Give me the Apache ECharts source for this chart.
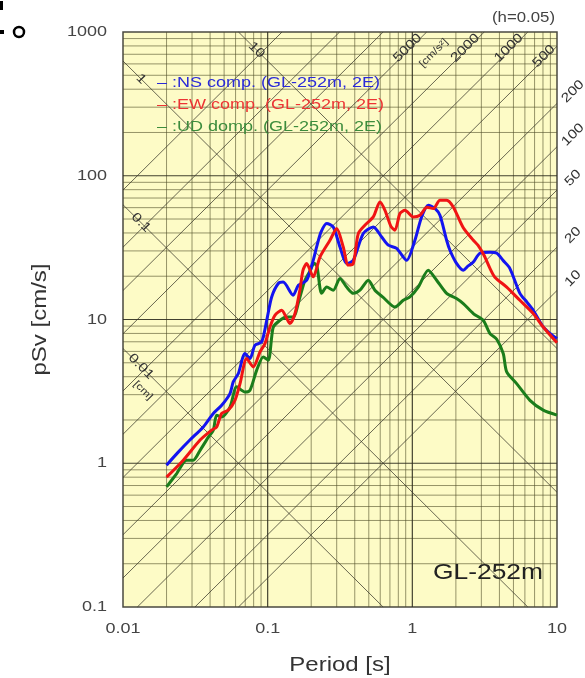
<!DOCTYPE html>
<html>
<head>
<meta charset="utf-8">
<title>pSv spectrum GL-252m</title>
<script src="https://cdn.jsdelivr.net/npm/echarts@6.0.0/dist/echarts.min.js"></script>
<style>
  html, body { margin: 0; padding: 0; background: #fff; }
  #main { width: 585px; height: 678px; }
</style>
</head>
<body>
<div id="main"></div>
<script>
// pseudo velocity response spectra (h=0.05)
var nsPeriod = [0.02, 0.024, 0.029, 0.0359, 0.0421, 0.0481, 0.0549, 0.0578, 0.0627, 0.0697, 0.0755, 0.0817, 0.0909, 0.0985, 0.1066, 0.1184, 0.128, 0.15, 0.163, 0.186, 0.2065, 0.218, 0.2336, 0.256, 0.284, 0.316, 0.3515, 0.3906, 0.458, 0.537, 0.614, 0.682, 0.779, 0.913, 1.042, 1.159, 1.288, 1.432, 1.552, 1.726, 1.82, 2.0, 2.25, 2.42, 2.64, 2.93, 3.44, 3.84, 4.23, 4.72, 5.54, 6.2, 6.85, 8.03, 8.93, 10];
var nsSv = [0.97, 1.19, 1.45, 1.79, 2.22, 2.53, 3.05, 3.68, 4.21, 5.8, 5.35, 6.62, 6.98, 9.88, 14.35, 17.8, 18.2, 14.75, 17.3, 18.75, 25.8, 32, 40.5, 46.5, 44, 32, 24.5, 25.8, 39.6, 44, 37.5, 32.9, 31.2, 25.8, 35.6, 51.7, 62.4, 59.4, 53.1, 35.6, 30.3, 25, 22, 23.5, 25.1, 28.9, 29.4, 28.9, 25.8, 22.7, 15.2, 13.2, 11.6, 8.87, 8.02, 7.37];

var ewPeriod = [0.02, 0.0261, 0.0341, 0.041, 0.0444, 0.0481, 0.0534, 0.0594, 0.0644, 0.0716, 0.0795, 0.0885, 0.0958, 0.1037, 0.1122, 0.125, 0.1353, 0.1426, 0.1545, 0.167, 0.1754, 0.186, 0.2065, 0.2298, 0.2695, 0.30, 0.333, 0.3606, 0.3906, 0.423, 0.47, 0.537, 0.597, 0.647, 0.711, 0.758, 0.821, 0.889, 1.015, 1.129, 1.262, 1.395, 1.552, 1.726, 1.918, 2.25, 2.64, 2.84, 3.13, 3.44, 3.72, 4.49, 5.54, 6.85, 8.03, 10];
var ewSv = [0.8, 1.05, 1.45, 1.7, 1.79, 2.22, 2.34, 2.74, 3.58, 5.35, 4.68, 5.95, 6.8, 8.87, 10.7, 11.6, 10.2, 9.37, 11, 16, 22, 24.5, 19.8, 27.2, 35.6, 42.9, 32, 23.9, 24.5, 39.6, 45.3, 51.7, 65.7, 57.5, 44.5, 41.8, 54.6, 57.5, 51.7, 53.1, 60.4, 59.1, 67.6, 67.6, 60.7, 43.5, 35.6, 32.9, 28, 22.7, 19.7, 16.8, 13.6, 11, 8.87, 6.89];

var udPeriod = [0.02, 0.0235, 0.0275, 0.0306, 0.0341, 0.0389, 0.0421, 0.0444, 0.0481, 0.0549, 0.0611, 0.0697, 0.0755, 0.0839, 0.0932, 0.101, 0.1093, 0.1216, 0.1353, 0.15, 0.167, 0.181, 0.196, 0.209, 0.219, 0.236, 0.256, 0.284, 0.316, 0.3515, 0.3906, 0.4345, 0.496, 0.551, 0.626, 0.758, 0.865, 0.962, 1.099, 1.288, 1.472, 1.726, 2.02, 2.25, 2.64, 3.09, 3.44, 3.83, 4.25, 4.49, 5.26, 6.5, 8.03, 10];
var udSv = [0.684, 0.848, 1.05, 1.05, 1.23, 1.52, 1.7, 2.16, 2.1, 2.46, 3.4, 3.13, 3.22, 4.43, 5.49, 5.21, 8.87, 9.88, 10.4, 10.4, 14.3, 18.75, 21.7, 24.6, 23.5, 15.2, 16.8, 16, 19.3, 16.8, 15.2, 16, 18.75, 16, 14.3, 12.2, 13.6, 14.35, 16.8, 22, 18.75, 15.2, 14, 12.9, 11, 9.88, 7.98, 7.29, 5.8, 4.32, 3.58, 2.74, 2.34, 2.16];

// axes and tripartite guide lines
var xTicks = [0.01, 0.1, 1, 10];
var yTicks = [0.1, 1, 10, 100, 1000];
var dispLevels = [0.01, 0.1, 1, 10];   // displacement [cm]
var accLevels = [10, 20, 50, 100, 200, 500, 1000, 2000, 5000, 10000, 20000, 50000];  // acceleration [cm/s2]
var accTopLabels = [5000, 2000, 1000, 500];
var accSideLabels = [200, 100, 50, 20, 10];

var xMin = 0.01, xMax = 10, yMin = 0.1, yMax = 1000;
var FONT = '"Liberation Sans", Arial, sans-serif';
var SX = 1.2;   // lettering in the picture is a bit wide

function pairs(xs, ys) {
  return xs.map(function (x, i) { return [x, ys[i]]; });
}

// log grid lines 1..9 per decade
function gridLines(major) {
  var out = [];
  var e, k, t;
  for (e = -2; e <= 0; e++) {
    for (k = 1; k <= 9; k++) {
      t = +(k * Math.pow(10, e)).toPrecision(3);
      if (t <= xMin || (k === 1) !== major) continue;
      out.push([[t, yMin], [t, yMax]]);
    }
  }
  for (e = -1; e <= 2; e++) {
    for (k = 1; k <= 9; k++) {
      t = +(k * Math.pow(10, e)).toPrecision(3);
      if (t <= yMin || (k === 1) !== major) continue;
      out.push([[xMin, t], [xMax, t]]);
    }
  }
  return out;
}

// Sv = 2*pi*D/T
function dispSeg(d) {
  var c = 2 * Math.PI * d;
  var t1 = Math.max(xMin, c / yMax), t2 = Math.min(xMax, c / yMin);
  if (t1 >= t2) return null;
  return [[t1, c / t1], [t2, c / t2]];
}
// Sv = A*T/(2*pi)
function accSeg(a) {
  var c = a / (2 * Math.PI);
  var t1 = Math.max(xMin, yMin / c), t2 = Math.min(xMax, yMax / c);
  if (t1 >= t2) return null;
  return [[t1, c * t1], [t2, c * t2]];
}

function guide(seg, color, width, z) {
  return {
    type: 'line', data: seg, z: z, silent: true, showSymbol: false, clip: true,
    lineStyle: { color: color, width: width }
  };
}

var series = [];
gridLines(false).forEach(function (s) { series.push(guide(s, 'rgba(80,78,40,0.6)', 1, 1)); });
gridLines(true).forEach(function (s) { series.push(guide(s, 'rgba(45,44,30,0.9)', 1.2, 1)); });
dispLevels.map(dispSeg).concat(accLevels.map(accSeg)).filter(Boolean).forEach(function (s) {
  series.push(guide(s, 'rgba(55,54,40,0.75)', 1, 2));
});

series.push({
  name: 'UD', type: 'line', z: 5, showSymbol: false, smooth: 0.25,
  data: pairs(udPeriod, udSv),
  lineStyle: { color: '#1b7d1b', width: 3 }
});
series.push({
  name: 'NS', type: 'line', z: 6, showSymbol: false, smooth: 0.25,
  data: pairs(nsPeriod, nsSv),
  lineStyle: { color: '#1414f0', width: 3 }
});
series.push({
  name: 'EW', type: 'line', z: 7, showSymbol: false, smooth: 0.25,
  data: pairs(ewPeriod, ewSv),
  lineStyle: { color: '#f01414', width: 3 }
});

var chart = echarts.init(document.getElementById('main'), null, { renderer: 'canvas' });

var hiddenAxis = {
  axisLine: { show: false },
  axisTick: { show: false },
  axisLabel: { show: false },
  splitLine: { show: false }
};

chart.setOption({
  animation: false,
  backgroundColor: '#ffffff',
  grid: {
    left: 123, right: 28, top: 32, bottom: 71,
    show: true,
    backgroundColor: '#fdfbc6',
    borderColor: '#4a4a40',
    borderWidth: 1.5
  },
  xAxis: Object.assign({ type: 'log', logBase: 10, min: xMin, max: xMax }, hiddenAxis),
  yAxis: Object.assign({ type: 'log', logBase: 10, min: yMin, max: yMax }, hiddenAxis),
  series: series
});

// text placed through the axes
function px(p) { return chart.convertToPixel({ gridIndex: 0 }, p); }

function txt(x, y, s, size, color, rot, align, vAlign) {
  return {
    type: 'text', x: x, y: y, rotation: rot || 0, scaleX: SX, z: 20, silent: true,
    style: {
      text: s, fill: color, fontSize: size, fontFamily: FONT,
      align: align || 'center', verticalAlign: vAlign || 'middle'
    }
  };
}

var g = [];

// tick labels and axis names
yTicks.forEach(function (v) {
  var p = px([xMin, v]);
  g.push(txt(p[0] - 16, p[1], String(v), 15, '#444', 0, 'right'));
});
xTicks.forEach(function (t) {
  var p = px([t, yMin]);
  g.push(txt(p[0], p[1] + 22, String(t), 15, '#444'));
});
var c0 = px([xMin, yMin]), c1 = px([xMax, yMax]);
g.push(txt(40, (c0[1] + c1[1]) / 2, 'pSv [cm/s]', 20, '#333', Math.PI / 2));
g.push(txt((c0[0] + c1[0]) / 2, 665, 'Period [s]', 20, '#333'));

// displacement labels
dispLevels.forEach(function (d) {
  var p = px(dispSeg(d)[0]);
  g.push(txt(p[0] + 18, p[1] + 18, String(d), 13, '#333', -Math.PI / 4));
  if (d === 0.01) g.push(txt(p[0] + 20, p[1] + 42, '[cm]', 10, '#333', -Math.PI / 4));
});

// acceleration labels
accTopLabels.forEach(function (a) {
  var p = px(accSeg(a)[1]);
  var off = String(a).length > 3 ? 19 : 13;
  g.push(txt(p[0] - off, p[1] + off - 3, String(a), 13, '#333', Math.PI / 4));
  if (a === 5000) g.push(txt(p[0] - off + 26, p[1] + off + 2, '[cm/s\u00b2]', 10, '#333', Math.PI / 4));
});
accSideLabels.forEach(function (a) {
  var p = px(accSeg(a)[1]);
  g.push(txt(p[0] + 16, p[1] - 12, String(a), 13, '#333', Math.PI / 4));
});

// legend, notes
g.push(txt(157, 83, '\u2013 :NS comp. (GL-252m, 2E)', 15, '#2a2ad8', 0, 'left'));
g.push(txt(157, 105, '\u2013 :EW comp. (GL-252m, 2E)', 15, '#ec3434', 0, 'left'));
g.push(txt(157, 127, '\u2013 :UD domp. (GL-252m, 2E)', 15, '#3c8c3c', 0, 'left'));
g.push(txt(c1[0] - 2, 18, '(h=0.05)', 14, '#444', 0, 'right'));
g.push(txt(c1[0] - 14, 573, 'GL-252m', 22, '#222', 0, 'right'));

// cropped caption remains at the top-left corner
g.push({ type: 'rect', shape: { x: 0, y: 1, width: 3, height: 9 }, style: { fill: '#000' } });
g.push({ type: 'rect', shape: { x: 0, y: 30, width: 4, height: 4 }, style: { fill: '#000' } });
g.push({ type: 'circle', shape: { cx: 19, cy: 32, r: 5 }, style: { fill: 'none', stroke: '#000', lineWidth: 2.5 } });

chart.setOption({ graphic: g });
</script>
</body>
</html>
